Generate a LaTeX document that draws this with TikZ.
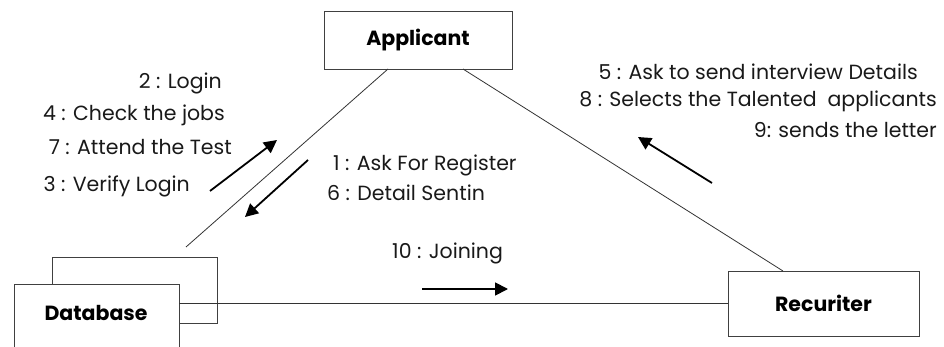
\documentclass[tikz,border=0pt]{standalone}
\usepackage{fontspec}
\setmainfont{Poppins}
\usetikzlibrary{arrows.meta}
\begin{document}
\begin{tikzpicture}[x=1pt,y=-1pt,
  obj/.style={draw=black!75,line width=0.9pt,fill=white,inner sep=0pt},
  objtxt/.style={font=\fontsize{20.5}{23}\selectfont\bfseries},
  lbl/.style={font=\fontsize{20.5}{23}\selectfont,text=black!90,inner sep=0pt},
  link/.style={draw=black!80,line width=0.8pt},
  msg/.style={line width=1.8pt,-{Triangle[length=13pt,width=13pt]}}]
\useasboundingbox (0,0) rectangle (944,347);
% boxes
\node[obj,minimum width=188pt,minimum height=58pt] (app) at (418,40) {};
\node[objtxt] at (app.center) {Applicant};
\node[obj,minimum width=165pt,minimum height=66pt] (dbback) at (134.5,290) {};
\node[obj,minimum width=165pt,minimum height=80pt,anchor=north west] (db) at (14,284) {};
\node[objtxt] (dbt) at (96,313) {Database};
\node[obj,minimum width=191pt,minimum height=65pt] (rec) at (823.5,303.5) {};
\node[objtxt] at (rec.center) {Recuriter};
% links
\coordinate (appL) at (388,69);
\coordinate (dbtop) at (186,247);
\coordinate (appR) at (463,69);
\coordinate (recT) at (783,271);
\coordinate (dbR) at (179,303);
\coordinate (recL) at (728,303);
\draw[link] (appL) -- (dbtop);
\draw[link] (appR) -- (recT);
\draw[link] (dbR) -- (recL);
% message arrows
\coordinate (a1s) at (210,191); \coordinate (a1e) at (277,140);
\coordinate (a2s) at (308,160); \coordinate (a2e) at (245,217);
\coordinate (a3s) at (712,183); \coordinate (a3e) at (638,137);
\coordinate (a4s) at (422,289); \coordinate (a4e) at (508,289);
\draw[msg] (a1s) -- (a1e);
\draw[msg] (a2s) -- (a2e);
\draw[msg] (a3s) -- (a3e);
\draw[msg] (a4s) -- (a4e);
% labels
\node[lbl,anchor=east] (l2) at (222,83) {2 : Login};
\node[lbl,anchor=east] (l4) at (225,115) {4 : Check the jobs};
\node[lbl,anchor=east] (l7) at (232,147) {7 : Attend the Test};
\node[lbl,anchor=east] (l3) at (190,186) {3 : Verify Login};
\node[lbl,anchor=west] (l1) at (333,165) {1 : Ask For Register};
\node[lbl,anchor=west] (l6) at (327,193) {6 : Detail Sentin};
\node[lbl,anchor=east] (l5) at (918,72) {5 : Ask to send interview Details};
\node[lbl,anchor=east] (l8) at (937,101) {8 : Selects the Talented\ \ applicants};
\node[lbl,anchor=east] (l9) at (937,130) {9: sends the letter};
\node[lbl,anchor=west] (l10) at (392,253) {10 : Joining};
\end{tikzpicture}
\end{document}
